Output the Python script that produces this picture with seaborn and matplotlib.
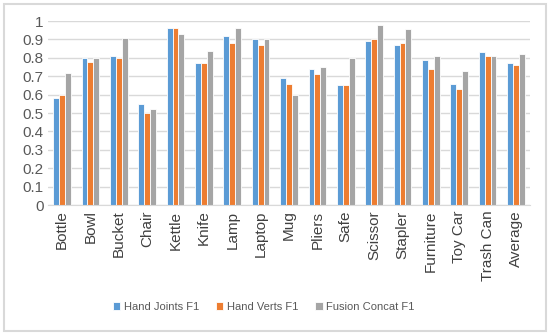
import matplotlib
matplotlib.use("Agg")
import matplotlib.pyplot as plt
import numpy as np
import pandas as pd
import seaborn as sns
from matplotlib.patches import Rectangle

# Per-object F1 scores
categories = ["Bottle", "Bowl", "Bucket", "Chair", "Kettle", "Knife", "Lamp", "Laptop",
              "Mug", "Pliers", "Safe", "Scissor", "Stapler", "Furniture", "Toy Car",
              "Trash Can", "Average"]
hand_joints = [0.58, 0.80, 0.81, 0.55, 0.96, 0.77, 0.92, 0.90,
               0.69, 0.74, 0.65, 0.89, 0.87, 0.79, 0.66, 0.83, 0.77]
hand_verts = [0.60, 0.78, 0.80, 0.50, 0.96, 0.77, 0.88, 0.87,
              0.66, 0.71, 0.65, 0.90, 0.88, 0.74, 0.63, 0.81, 0.76]
fusion_concat = [0.72, 0.80, 0.91, 0.52, 0.93, 0.84, 0.96, 0.90,
                 0.60, 0.75, 0.80, 0.98, 0.955, 0.81, 0.73, 0.81, 0.82]
series_names = ["Hand Joints F1", "Hand Verts F1", "Fusion Concat F1"]
yticks = [0, 0.1, 0.2, 0.3, 0.4, 0.5, 0.6, 0.7, 0.8, 0.9, 1]

df = pd.DataFrame({
    "category": categories * 3,
    "series": np.repeat(series_names, len(categories)),
    "f1": hand_joints + hand_verts + fusion_concat,
})

sns.set_style("white")
plt.rcParams["font.family"] = ["Liberation Sans", "DejaVu Sans"]

fig = plt.figure(figsize=(5.5, 3.35), dpi=100)
ax = fig.add_axes([0.087, 0.388, 0.877, 0.549])

# outer frame like the pasted screenshot
fig.patches.append(Rectangle((0.007, 0.012), 0.986, 0.976, transform=fig.transFigure,
                             fill=False, edgecolor="#D9D9D9", linewidth=1.5))

palette = ["#5B9BD5", "#ED7D31", "#A5A5A5"]
sns.barplot(data=df, x="category", y="f1", hue="series", palette=palette,
            width=0.62, edgecolor="white", linewidth=0.6, saturation=1, ax=ax)

ax.set_ylim(0, 1)
ax.set_xlim(-0.5, len(categories) - 0.5)
ax.set_yticks(yticks)
ax.set_yticklabels([f"{t:g}" for t in yticks])
ax.yaxis.grid(True, color="#D9D9D9", linewidth=1)
ax.set_axisbelow(True)
for s in ["top", "right", "left"]:
    ax.spines[s].set_visible(False)
ax.spines["bottom"].set_color("#D9D9D9")
ax.tick_params(axis="x", rotation=90, labelsize=11, colors="#404040", length=0, pad=4)
ax.tick_params(axis="y", labelsize=11, colors="#595959", length=0, pad=3)
ax.set_xlabel("")
ax.set_ylabel("")

ax.legend(loc="center", bbox_to_anchor=(0.447, -0.555), ncol=3, frameon=False,
          fontsize=8, handlelength=0.7, handleheight=0.7, handletextpad=0.3,
          columnspacing=1.5, labelcolor="#595959")

fig.savefig("out.png", dpi=100)
